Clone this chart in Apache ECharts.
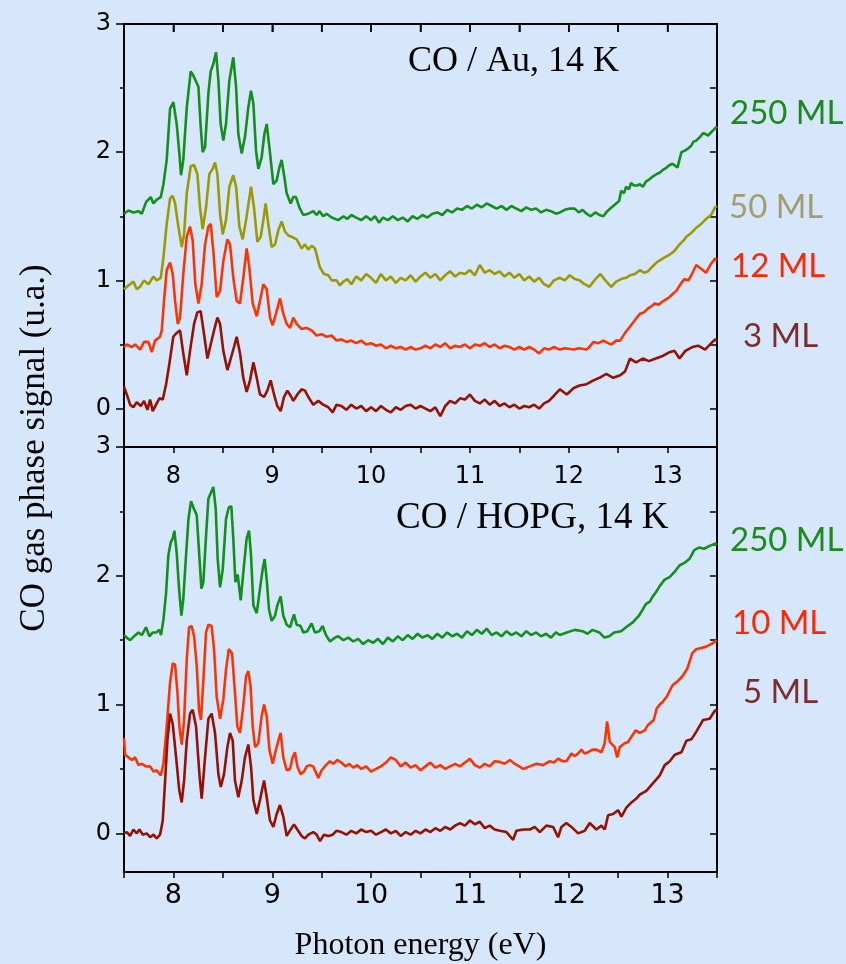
<!DOCTYPE html>
<html>
<head>
<meta charset="utf-8">
<script src="https://cdn.jsdelivr.net/npm/echarts@6/dist/echarts.min.js"></script>
<style>
  html, body { margin: 0; padding: 0; background: #d6e7fb; }
  #chart { width: 846px; height: 964px; }
</style>
</head>
<body>
<div id="chart"></div>
<script>
// Tick positions
const energyTicks = [8, 9, 10, 11, 12, 13];
const energyHalfTicks = [8, 8.5, 9, 9.5, 10, 10.5, 11, 11.5, 12, 12.5, 13];
const signalTicks = [0, 1, 2, 3];
const signalMinorTicks = [0.5, 1.5, 2.5];
const signalAllTicks = [0, 0.5, 1, 1.5, 2, 2.5, 3];

// CO / Au, 14 K  — [photon energy (eV), signal]
const au250 = [[7.5,1.52],[7.545,1.545],[7.595,1.53],[7.646,1.54],[7.68,1.52],[7.723,1.61],[7.77,1.65],[7.798,1.60],[7.831,1.63],[7.872,1.65],[7.899,1.75],[7.932,1.94],[7.966,2.34],[8.0,2.39],[8.033,2.22],[8.06,1.99],[8.077,1.82],[8.1,1.94],[8.135,2.35],[8.175,2.63],[8.2,2.60],[8.219,2.61],[8.253,2.51],[8.276,2.20],[8.296,2.00],[8.32,2.04],[8.354,2.46],[8.377,2.63],[8.404,2.69],[8.431,2.78],[8.455,2.56],[8.478,2.22],[8.505,2.09],[8.532,2.22],[8.566,2.56],[8.606,2.74],[8.634,2.51],[8.657,2.14],[8.691,1.99],[8.724,2.12],[8.758,2.35],[8.785,2.48],[8.809,2.38],[8.836,2.01],[8.859,1.87],[8.893,1.96],[8.92,2.14],[8.944,2.22],[8.971,2.04],[9.011,1.75],[9.045,1.78],[9.072,1.88],[9.095,1.94],[9.122,1.81],[9.146,1.68],[9.186,1.60],[9.213,1.65],[9.24,1.65],[9.274,1.57],[9.314,1.51],[9.365,1.52],[9.415,1.54],[9.449,1.51],[9.476,1.54],[9.516,1.50],[9.55,1.52],[9.601,1.49],[9.668,1.47],[9.72,1.50],[9.76,1.48],[9.80,1.51],[9.85,1.49],[9.90,1.47],[9.95,1.50],[10.0,1.47],[10.04,1.50],[10.08,1.45],[10.12,1.49],[10.17,1.47],[10.22,1.50],[10.27,1.47],[10.32,1.49],[10.37,1.46],[10.42,1.50],[10.47,1.48],[10.52,1.51],[10.57,1.49],[10.62,1.52],[10.67,1.53],[10.72,1.51],[10.77,1.55],[10.82,1.53],[10.87,1.56],[10.92,1.55],[10.97,1.58],[11.02,1.56],[11.07,1.59],[11.12,1.57],[11.17,1.60],[11.22,1.58],[11.27,1.56],[11.32,1.58],[11.37,1.55],[11.42,1.58],[11.47,1.56],[11.52,1.54],[11.57,1.57],[11.62,1.55],[11.67,1.56],[11.72,1.53],[11.77,1.55],[11.82,1.54],[11.87,1.52],[11.91,1.53],[11.96,1.55],[12.01,1.56],[12.06,1.56],[12.1,1.53],[12.14,1.55],[12.18,1.52],[12.22,1.50],[12.27,1.53],[12.31,1.51],[12.35,1.50],[12.39,1.54],[12.42,1.56],[12.45,1.58],[12.48,1.60],[12.51,1.62],[12.53,1.70],[12.56,1.68],[12.58,1.73],[12.61,1.71],[12.63,1.76],[12.66,1.74],[12.69,1.74],[12.72,1.75],[12.75,1.73],[12.78,1.77],[12.82,1.79],[12.85,1.81],[12.89,1.83],[12.92,1.84],[12.95,1.86],[12.99,1.88],[13.02,1.90],[13.05,1.91],[13.07,1.92],[13.1,1.88],[13.14,2.00],[13.17,2.01],[13.21,2.03],[13.24,2.05],[13.26,2.08],[13.29,2.09],[13.33,2.12],[13.36,2.15],[13.38,2.16],[13.41,2.13],[13.43,2.12],[13.46,2.17],[13.5,2.20]];

const au50 = [[7.5,0.93],[7.545,0.96],[7.595,0.99],[7.629,0.93],[7.663,0.95],[7.703,1.00],[7.747,0.97],[7.798,1.03],[7.831,1.00],[7.872,1.02],[7.899,1.18],[7.932,1.44],[7.966,1.64],[7.993,1.66],[8.017,1.60],[8.05,1.42],[8.084,1.26],[8.108,1.36],[8.135,1.68],[8.175,1.89],[8.209,1.90],[8.242,1.83],[8.269,1.57],[8.296,1.40],[8.33,1.57],[8.364,1.83],[8.397,1.87],[8.421,1.92],[8.445,1.83],[8.472,1.52],[8.499,1.36],[8.532,1.47],[8.566,1.73],[8.606,1.82],[8.634,1.73],[8.667,1.42],[8.701,1.32],[8.735,1.47],[8.785,1.73],[8.815,1.57],[8.849,1.30],[8.883,1.34],[8.91,1.47],[8.933,1.60],[8.96,1.44],[8.994,1.26],[9.028,1.28],[9.061,1.39],[9.095,1.46],[9.129,1.38],[9.163,1.35],[9.196,1.34],[9.247,1.32],[9.297,1.25],[9.331,1.28],[9.365,1.24],[9.398,1.27],[9.432,1.25],[9.483,1.10],[9.523,1.05],[9.567,1.04],[9.601,1.00],[9.651,1.00],[9.685,0.96],[9.72,0.99],[9.76,1.01],[9.80,0.97],[9.85,1.03],[9.90,1.00],[9.95,1.05],[10.0,1.02],[10.05,0.98],[10.1,1.05],[10.15,1.00],[10.2,1.03],[10.25,0.98],[10.3,1.02],[10.35,1.00],[10.4,1.04],[10.45,0.99],[10.5,1.03],[10.55,1.06],[10.6,1.02],[10.65,1.05],[10.7,1.00],[10.75,1.04],[10.8,1.07],[10.85,1.03],[10.9,1.06],[10.95,1.05],[11.0,1.08],[11.05,1.04],[11.1,1.12],[11.15,1.06],[11.2,1.08],[11.25,1.05],[11.3,1.07],[11.35,1.03],[11.4,1.06],[11.45,1.02],[11.5,1.05],[11.55,1.00],[11.6,1.03],[11.65,0.99],[11.7,1.02],[11.75,0.97],[11.8,0.95],[11.85,1.00],[11.91,1.02],[11.96,1.00],[12.01,1.04],[12.06,1.01],[12.11,1.00],[12.16,0.97],[12.21,0.95],[12.26,1.00],[12.32,1.05],[12.37,1.00],[12.43,0.95],[12.48,0.99],[12.53,1.01],[12.58,1.02],[12.62,1.04],[12.67,1.05],[12.72,1.08],[12.76,1.06],[12.80,1.07],[12.85,1.11],[12.89,1.14],[12.93,1.16],[12.97,1.18],[13.02,1.20],[13.07,1.23],[13.12,1.28],[13.16,1.31],[13.19,1.34],[13.24,1.37],[13.29,1.41],[13.34,1.44],[13.39,1.48],[13.44,1.51],[13.48,1.57],[13.5,1.58]];

const au12 = [[7.5,0.48],[7.528,0.50],[7.579,0.48],[7.612,0.50],[7.663,0.46],[7.703,0.52],[7.747,0.52],[7.781,0.44],[7.814,0.53],[7.865,0.56],[7.882,0.61],[7.905,0.84],[7.932,1.08],[7.966,1.14],[7.993,1.05],[8.017,0.84],[8.044,0.66],[8.067,0.71],[8.1,1.05],[8.135,1.34],[8.168,1.42],[8.195,1.31],[8.222,0.97],[8.253,0.82],[8.286,0.97],[8.32,1.28],[8.354,1.42],[8.377,1.44],[8.404,1.23],[8.438,0.87],[8.472,0.92],[8.505,1.15],[8.546,1.32],[8.573,1.28],[8.606,1.02],[8.64,0.84],[8.674,0.82],[8.707,1.02],[8.741,1.25],[8.768,1.10],[8.802,0.82],[8.843,0.72],[8.876,0.84],[8.91,0.97],[8.944,0.93],[8.977,0.71],[9.004,0.65],[9.038,0.74],[9.078,0.86],[9.112,0.74],[9.146,0.66],[9.18,0.63],[9.213,0.71],[9.247,0.66],[9.297,0.62],[9.348,0.63],[9.398,0.61],[9.449,0.57],[9.5,0.58],[9.55,0.56],[9.601,0.57],[9.651,0.53],[9.70,0.54],[9.75,0.52],[9.80,0.53],[9.85,0.51],[9.90,0.53],[9.95,0.50],[10.0,0.51],[10.05,0.49],[10.1,0.50],[10.15,0.47],[10.2,0.49],[10.25,0.47],[10.3,0.48],[10.35,0.46],[10.4,0.48],[10.45,0.46],[10.5,0.47],[10.55,0.49],[10.6,0.47],[10.65,0.50],[10.7,0.48],[10.75,0.51],[10.8,0.47],[10.85,0.49],[10.9,0.48],[10.95,0.50],[11.0,0.47],[11.05,0.50],[11.1,0.49],[11.15,0.51],[11.2,0.48],[11.25,0.50],[11.3,0.47],[11.35,0.49],[11.4,0.48],[11.45,0.46],[11.5,0.48],[11.55,0.46],[11.6,0.48],[11.65,0.46],[11.7,0.43],[11.75,0.47],[11.8,0.46],[11.85,0.48],[11.91,0.46],[11.96,0.47],[12.05,0.46],[12.1,0.47],[12.18,0.46],[12.22,0.49],[12.25,0.52],[12.3,0.51],[12.35,0.53],[12.4,0.51],[12.43,0.50],[12.48,0.53],[12.52,0.53],[12.57,0.59],[12.6,0.62],[12.64,0.66],[12.68,0.70],[12.72,0.74],[12.76,0.75],[12.80,0.78],[12.84,0.80],[12.87,0.82],[12.91,0.81],[12.94,0.83],[12.98,0.85],[13.02,0.87],[13.06,0.90],[13.09,0.92],[13.13,0.97],[13.17,1.01],[13.21,1.00],[13.24,1.04],[13.29,1.12],[13.34,1.09],[13.39,1.06],[13.44,1.13],[13.48,1.17],[13.5,1.16]];

const au3 = [[7.5,0.17],[7.528,0.11],[7.562,0.03],[7.595,0.01],[7.629,0.05],[7.669,0.02],[7.703,0.06],[7.737,-0.01],[7.764,0.07],[7.791,-0.02],[7.824,0.03],[7.858,0.08],[7.892,0.07],[7.926,0.19],[7.959,0.35],[7.999,0.56],[8.033,0.59],[8.067,0.61],[8.1,0.43],[8.135,0.26],[8.168,0.45],[8.209,0.66],[8.242,0.75],[8.276,0.76],[8.31,0.58],[8.344,0.39],[8.377,0.50],[8.411,0.61],[8.445,0.71],[8.472,0.66],[8.505,0.45],[8.546,0.30],[8.58,0.39],[8.613,0.48],[8.64,0.56],[8.674,0.43],[8.707,0.24],[8.741,0.13],[8.775,0.22],[8.809,0.36],[8.843,0.24],[8.876,0.11],[8.917,0.09],[8.95,0.14],[8.984,0.22],[9.018,0.11],[9.051,0.02],[9.085,-0.02],[9.119,0.09],[9.153,0.14],[9.186,0.10],[9.213,0.06],[9.254,0.11],[9.297,0.15],[9.331,0.14],[9.365,0.09],[9.415,0.03],[9.466,0.06],[9.516,0.03],[9.567,0.01],[9.611,-0.03],[9.651,0.03],[9.70,0.02],[9.75,-0.01],[9.80,0.03],[9.85,0.00],[9.90,0.02],[9.95,-0.02],[10.0,0.01],[10.05,-0.02],[10.1,0.02],[10.15,-0.01],[10.2,-0.03],[10.25,0.01],[10.3,-0.01],[10.35,0.02],[10.4,0.03],[10.45,0.00],[10.5,0.02],[10.55,0.00],[10.6,-0.02],[10.65,0.01],[10.7,-0.06],[10.75,0.02],[10.8,0.06],[10.85,0.04],[10.9,0.08],[10.95,0.07],[11.0,0.11],[11.05,0.06],[11.1,0.04],[11.15,0.07],[11.2,0.03],[11.25,0.06],[11.3,0.02],[11.35,0.04],[11.4,0.01],[11.45,0.03],[11.5,0.00],[11.55,0.02],[11.6,0.01],[11.65,0.03],[11.7,0.00],[11.75,0.04],[11.8,0.06],[11.85,0.10],[11.91,0.15],[11.98,0.11],[12.05,0.16],[12.11,0.18],[12.18,0.19],[12.25,0.22],[12.31,0.24],[12.38,0.27],[12.45,0.24],[12.52,0.26],[12.57,0.29],[12.62,0.39],[12.68,0.36],[12.75,0.39],[12.81,0.37],[12.88,0.39],[12.95,0.41],[13.02,0.44],[13.07,0.45],[13.12,0.39],[13.18,0.45],[13.25,0.48],[13.31,0.49],[13.38,0.46],[13.43,0.50],[13.48,0.54],[13.5,0.53]];

// CO / HOPG, 14 K
const hopg250 = [[7.5,1.54],[7.528,1.52],[7.562,1.50],[7.602,1.53],[7.646,1.56],[7.68,1.54],[7.723,1.60],[7.757,1.53],[7.791,1.56],[7.825,1.56],[7.858,1.58],[7.875,1.54],[7.899,1.66],[7.926,1.87],[7.949,2.16],[7.973,2.26],[7.993,2.29],[8.01,2.35],[8.033,2.18],[8.057,1.90],[8.081,1.69],[8.1,1.82],[8.128,2.16],[8.152,2.44],[8.178,2.58],[8.202,2.53],[8.236,2.47],[8.256,2.23],[8.283,1.90],[8.303,1.95],[8.33,2.31],[8.354,2.60],[8.377,2.64],[8.404,2.69],[8.428,2.52],[8.448,2.13],[8.472,1.91],[8.499,2.05],[8.532,2.44],[8.56,2.53],[8.586,2.54],[8.606,2.29],[8.627,1.95],[8.65,2.01],[8.681,1.81],[8.714,2.08],[8.741,2.29],[8.765,2.35],[8.785,2.16],[8.809,1.77],[8.843,1.71],[8.876,1.90],[8.903,2.05],[8.923,2.13],[8.944,1.97],[8.967,1.74],[8.994,1.65],[9.028,1.69],[9.051,1.77],[9.085,1.84],[9.112,1.69],[9.146,1.62],[9.18,1.60],[9.22,1.70],[9.247,1.62],[9.287,1.61],[9.314,1.56],[9.355,1.57],[9.398,1.63],[9.432,1.56],[9.476,1.57],[9.51,1.61],[9.543,1.54],[9.584,1.49],[9.634,1.52],[9.668,1.53],[9.72,1.50],[9.77,1.52],[9.82,1.49],[9.87,1.51],[9.92,1.47],[9.97,1.50],[10.02,1.48],[10.07,1.51],[10.12,1.47],[10.17,1.52],[10.22,1.49],[10.27,1.53],[10.32,1.50],[10.37,1.54],[10.42,1.51],[10.47,1.55],[10.52,1.52],[10.57,1.54],[10.62,1.51],[10.67,1.55],[10.72,1.52],[10.77,1.56],[10.82,1.53],[10.87,1.55],[10.92,1.52],[10.97,1.57],[11.02,1.54],[11.07,1.58],[11.12,1.55],[11.17,1.59],[11.22,1.54],[11.27,1.56],[11.32,1.53],[11.37,1.57],[11.42,1.54],[11.47,1.56],[11.52,1.53],[11.57,1.57],[11.62,1.54],[11.67,1.56],[11.72,1.53],[11.77,1.55],[11.82,1.52],[11.87,1.56],[11.91,1.54],[11.98,1.56],[12.06,1.58],[12.14,1.57],[12.19,1.55],[12.24,1.58],[12.31,1.56],[12.36,1.52],[12.41,1.53],[12.46,1.56],[12.53,1.57],[12.58,1.60],[12.65,1.64],[12.71,1.69],[12.75,1.74],[12.78,1.78],[12.82,1.80],[12.85,1.84],[12.88,1.87],[12.92,1.92],[12.97,1.97],[13.02,1.99],[13.07,2.03],[13.12,2.08],[13.17,2.10],[13.22,2.13],[13.27,2.20],[13.32,2.22],[13.37,2.21],[13.42,2.23],[13.48,2.25],[13.5,2.24]];

const hopg10 = [[7.5,0.74],[7.511,0.61],[7.545,0.59],[7.579,0.57],[7.612,0.59],[7.646,0.53],[7.68,0.54],[7.723,0.52],[7.764,0.52],[7.798,0.48],[7.831,0.49],[7.872,0.45],[7.899,0.54],[7.932,0.83],[7.966,1.17],[7.993,1.32],[8.017,1.31],[8.041,1.09],[8.06,0.83],[8.084,0.69],[8.108,0.88],[8.135,1.35],[8.158,1.60],[8.185,1.61],[8.209,1.53],[8.236,1.30],[8.259,0.96],[8.279,0.88],[8.303,1.19],[8.33,1.56],[8.354,1.62],[8.387,1.61],[8.411,1.43],[8.438,1.06],[8.472,0.89],[8.505,1.04],[8.532,1.27],[8.56,1.43],[8.593,1.40],[8.623,1.09],[8.647,0.83],[8.674,0.78],[8.707,0.99],[8.735,1.22],[8.758,1.26],[8.781,1.14],[8.802,0.83],[8.826,0.67],[8.859,0.70],[8.893,0.91],[8.917,1.00],[8.944,0.91],[8.971,0.65],[9.004,0.54],[9.038,0.65],[9.062,0.72],[9.085,0.78],[9.112,0.59],[9.146,0.49],[9.18,0.50],[9.206,0.59],[9.23,0.63],[9.254,0.52],[9.287,0.46],[9.321,0.48],[9.348,0.52],[9.382,0.53],[9.415,0.52],[9.449,0.46],[9.466,0.43],[9.5,0.49],[9.543,0.53],[9.584,0.56],[9.617,0.54],[9.658,0.57],[9.70,0.55],[9.74,0.52],[9.78,0.54],[9.82,0.51],[9.86,0.53],[9.90,0.50],[9.95,0.52],[10.0,0.48],[10.05,0.50],[10.1,0.52],[10.15,0.55],[10.2,0.59],[10.25,0.57],[10.3,0.52],[10.35,0.55],[10.4,0.51],[10.45,0.53],[10.5,0.49],[10.55,0.52],[10.6,0.55],[10.65,0.51],[10.7,0.53],[10.75,0.50],[10.8,0.52],[10.85,0.54],[10.9,0.52],[10.95,0.55],[11.0,0.58],[11.05,0.53],[11.1,0.51],[11.15,0.54],[11.2,0.52],[11.25,0.56],[11.303,0.555],[11.35,0.54],[11.404,0.57],[11.454,0.54],[11.5,0.52],[11.538,0.50],[11.606,0.52],[11.673,0.54],[11.74,0.53],[11.808,0.56],[11.85,0.55],[11.892,0.58],[11.94,0.56],[11.976,0.56],[12.027,0.62],[12.06,0.60],[12.095,0.62],[12.128,0.65],[12.16,0.62],[12.196,0.63],[12.24,0.65],[12.28,0.65],[12.33,0.63],[12.364,0.70],[12.388,0.87],[12.415,0.71],[12.465,0.67],[12.49,0.59],[12.516,0.67],[12.566,0.70],[12.6,0.71],[12.634,0.75],[12.678,0.80],[12.718,0.78],[12.769,0.80],[12.8,0.84],[12.83,0.86],[12.86,0.88],[12.89,0.97],[12.92,1.00],[12.95,1.02],[12.99,1.06],[13.05,1.15],[13.1,1.18],[13.15,1.22],[13.2,1.28],[13.25,1.40],[13.29,1.43],[13.34,1.44],[13.39,1.45],[13.44,1.47],[13.48,1.49],[13.5,1.50]];

const hopg5 = [[7.5,0.0],[7.528,0.01],[7.562,-0.02],[7.595,0.03],[7.629,0.0],[7.656,0.03],[7.69,-0.01],[7.73,0.0],[7.764,-0.03],[7.798,-0.01],[7.831,-0.04],[7.865,-0.01],[7.892,0.10],[7.916,0.41],[7.939,0.72],[7.966,0.93],[7.993,0.85],[8.027,0.59],[8.06,0.33],[8.084,0.24],[8.108,0.41],[8.135,0.72],[8.168,0.93],[8.195,0.96],[8.229,0.83],[8.263,0.46],[8.286,0.27],[8.32,0.59],[8.354,0.89],[8.387,0.93],[8.421,0.78],[8.455,0.46],[8.479,0.36],[8.512,0.46],[8.546,0.67],[8.573,0.78],[8.6,0.72],[8.623,0.41],[8.657,0.28],[8.691,0.41],[8.724,0.59],[8.758,0.69],[8.785,0.52],[8.809,0.26],[8.843,0.15],[8.876,0.26],[8.917,0.41],[8.944,0.28],[8.977,0.10],[9.011,0.05],[9.045,0.15],[9.078,0.22],[9.112,0.13],[9.146,-0.02],[9.186,0.03],[9.22,0.07],[9.254,0.03],[9.297,-0.02],[9.331,-0.04],[9.365,-0.01],[9.415,0.01],[9.449,-0.01],[9.483,-0.06],[9.523,-0.01],[9.567,-0.02],[9.611,-0.01],[9.651,0.02],[9.70,0.01],[9.75,-0.01],[9.80,0.02],[9.85,0.00],[9.90,0.03],[9.95,0.01],[10.0,0.02],[10.05,-0.01],[10.1,0.01],[10.15,0.03],[10.2,0.00],[10.25,0.02],[10.3,-0.02],[10.35,0.01],[10.4,-0.01],[10.45,0.02],[10.5,0.00],[10.55,0.03],[10.6,0.01],[10.65,0.04],[10.7,0.02],[10.75,0.05],[10.8,0.03],[10.85,0.06],[10.9,0.08],[10.95,0.06],[11.0,0.10],[11.05,0.07],[11.1,0.09],[11.15,0.04],[11.2,0.06],[11.25,0.03],[11.303,0.02],[11.37,0.01],[11.437,-0.05],[11.47,0.02],[11.538,0.03],[11.606,0.03],[11.656,0.05],[11.707,0.01],[11.774,0.06],[11.842,0.05],[11.892,-0.03],[11.926,0.05],[11.976,0.08],[12.027,0.05],[12.095,0.00],[12.162,0.02],[12.212,0.08],[12.28,0.03],[12.33,0.06],[12.364,0.03],[12.398,0.14],[12.448,0.15],[12.499,0.18],[12.533,0.13],[12.583,0.20],[12.634,0.24],[12.684,0.27],[12.718,0.30],[12.785,0.33],[12.853,0.39],[12.921,0.45],[12.971,0.53],[13.022,0.56],[13.072,0.61],[13.14,0.63],[13.19,0.72],[13.241,0.73],[13.291,0.79],[13.358,0.88],[13.426,0.89],[13.476,0.95],[13.5,0.96]];

const GREEN = '#12901a', OLIVE = '#9c9a00', RED = '#ff3300', DARK = '#9a1000';
const BLACK = '#000';
const TICK_FONT = 'DejaVu Sans';
const SERIF = '"Liberation Serif", "Times New Roman", serif';
const LABEL_FONT = 'Lato, "Open Sans", sans-serif';
const ENERGY_MIN = 7.5, ENERGY_MAX = 13.5;
const SIGNAL_MIN = -0.3, SIGNAL_MAX = 3;

const chart = echarts.init(document.getElementById('chart'));

const axisLine = { show: true, onZero: false, lineStyle: { color: BLACK, width: 2 } };

// Two stacked framed panels, plus an invisible one spanning both for the shared y title
const grids = [
  { left: 124, top: 24, width: 593, height: 423, show: true, borderColor: BLACK, borderWidth: 1.5, backgroundColor: 'transparent' },
  { left: 124, top: 447, width: 593, height: 425, show: true, borderColor: BLACK, borderWidth: 1.5, backgroundColor: 'transparent' },
  { left: 124, top: 24, width: 593, height: 848 }
];

function energyAxis(gi, fontSize, margin, name) {
  return {
    type: 'value', gridIndex: gi, position: 'bottom', min: ENERGY_MIN, max: ENERGY_MAX, interval: 0.5,
    axisLine, splitLine: { show: false },
    axisTick: { show: true, inside: false, length: 6, lineStyle: { color: BLACK, width: 1.5 } },
    axisLabel: { customValues: energyTicks, margin, fontFamily: TICK_FONT, fontSize, color: BLACK },
    name: name || '', nameLocation: 'middle', nameGap: 58,
    nameTextStyle: { fontFamily: SERIF, fontSize: 32, color: BLACK }
  };
}

// Top edge of the upper panel, kept on its own layer above everything else
const topEdgeAxis = {
  type: 'value', gridIndex: 0, position: 'top', min: ENERGY_MIN, max: ENERGY_MAX, interval: 0.5,
  zlevel: 1, z: 10,
  axisLine: { show: true, onZero: false, lineStyle: { color: BLACK, width: 2 } },
  splitLine: { show: false },
  axisTick: { show: true, inside: true, length: 8, lineStyle: { color: BLACK, width: 1.5 } },
  axisLabel: { show: false }
};

function yAxes(gi) {
  const base = { type: 'value', gridIndex: gi, min: SIGNAL_MIN, max: SIGNAL_MAX, splitLine: { show: false } };
  return [
    Object.assign({}, base, {
      position: 'left', axisLine,
      axisTick: { show: true, inside: false, length: 8, customValues: signalTicks, lineStyle: { color: BLACK, width: 1.5 } },
      axisLabel: { show: true, customValues: signalTicks, margin: 13, fontFamily: TICK_FONT, fontSize: 24, color: BLACK }
    }),
    Object.assign({}, base, {
      position: 'left', axisLine: { show: false, onZero: false },
      axisTick: { show: true, inside: false, length: 4, customValues: signalMinorTicks, lineStyle: { color: BLACK, width: 1.5 } },
      axisLabel: { show: false }
    }),
    Object.assign({}, base, {
      position: 'right', axisLine,
      axisTick: { show: true, inside: true, length: 7, customValues: signalAllTicks, lineStyle: { color: BLACK, width: 1.5 } },
      axisLabel: { show: false }
    })
  ];
}

const titleAxis = {
  type: 'value', gridIndex: 2, position: 'left', min: 0, max: 1,
  axisLine: { show: false, onZero: false }, axisTick: { show: false }, axisLabel: { show: false },
  splitLine: { show: false },
  name: 'CO gas phase signal (u.a.)', nameLocation: 'middle', nameRotate: 90, nameGap: 72,
  nameTextStyle: { fontFamily: SERIF, fontSize: 35, color: BLACK }
};

function line(data, color, xi, yi) {
  return {
    type: 'line', data, xAxisIndex: xi, yAxisIndex: yi, showSymbol: false,
    lineStyle: { color, width: 2.6 }
  };
}

function textBox(text, x, y, color, font, size) {
  return {
    text, left: x, top: y, padding: 0,
    textStyle: { color, fontFamily: font, fontSize: size, fontWeight: 'normal' }
  };
}

chart.setOption({
  backgroundColor: '#d6e7fb',
  animation: false,
  grid: grids,
  title: [
    textBox('CO / Au, 14 K', 408, 44, BLACK, SERIF, 36),
    textBox('CO / HOPG, 14 K', 396, 500, BLACK, SERIF, 37),
    textBox('250 ML', 730, 97, '#1a8c1a', LABEL_FONT, 33),
    textBox('50 ML', 729, 191, '#a39c70', LABEL_FONT, 33),
    textBox('12 ML', 731, 250, '#ff2600', LABEL_FONT, 33),
    textBox('3 ML', 743, 320, '#7c2e2e', LABEL_FONT, 33),
    textBox('250 ML', 730, 524, '#1a8c1a', LABEL_FONT, 33),
    textBox('10 ML', 732, 607, '#ff2600', LABEL_FONT, 33),
    textBox('5 ML', 743, 676, '#7c2e2e', LABEL_FONT, 33)
  ],
  xAxis: [
    energyAxis(0, 24, 18),
    topEdgeAxis,
    energyAxis(1, 27, 10, 'Photon energy (eV)'),
    { type: 'value', gridIndex: 2, show: false, min: 0, max: 1 }
  ],
  yAxis: [...yAxes(0), ...yAxes(1), titleAxis],
  series: [
    line(au50, OLIVE, 0, 0),
    line(au250, GREEN, 0, 0),
    line(au12, RED, 0, 0),
    line(au3, DARK, 0, 0),
    line(hopg250, GREEN, 2, 3),
    line(hopg10, RED, 2, 3),
    line(hopg5, DARK, 2, 3)
  ]
});

// Upper panel's top border and its inward half-unit ticks, positioned through the panel's own scales
const toPx = (e, s) => chart.convertToPixel({ xAxisIndex: 0, yAxisIndex: 0 }, [e, s]);
const [edgeLeft, edgeTop] = toPx(ENERGY_MIN, SIGNAL_MAX);
const [edgeRight] = toPx(ENERGY_MAX, SIGNAL_MAX);
const edgeStyle = { stroke: BLACK, lineWidth: 2 };
const tickStyle = { stroke: BLACK, lineWidth: 1.5 };
chart.setOption({
  graphic: [{
    type: 'group', zlevel: 2, z: 100, silent: true,
    children: [
      { type: 'line', shape: { x1: edgeLeft - 1, y1: edgeTop, x2: edgeRight + 1, y2: edgeTop }, style: edgeStyle },
      ...energyHalfTicks.map(t => {
        const x = toPx(t, SIGNAL_MAX)[0];
        return { type: 'line', shape: { x1: x, y1: edgeTop, x2: x, y2: edgeTop + 8 }, style: tickStyle };
      })
    ]
  }]
});
</script>
</body>
</html>
